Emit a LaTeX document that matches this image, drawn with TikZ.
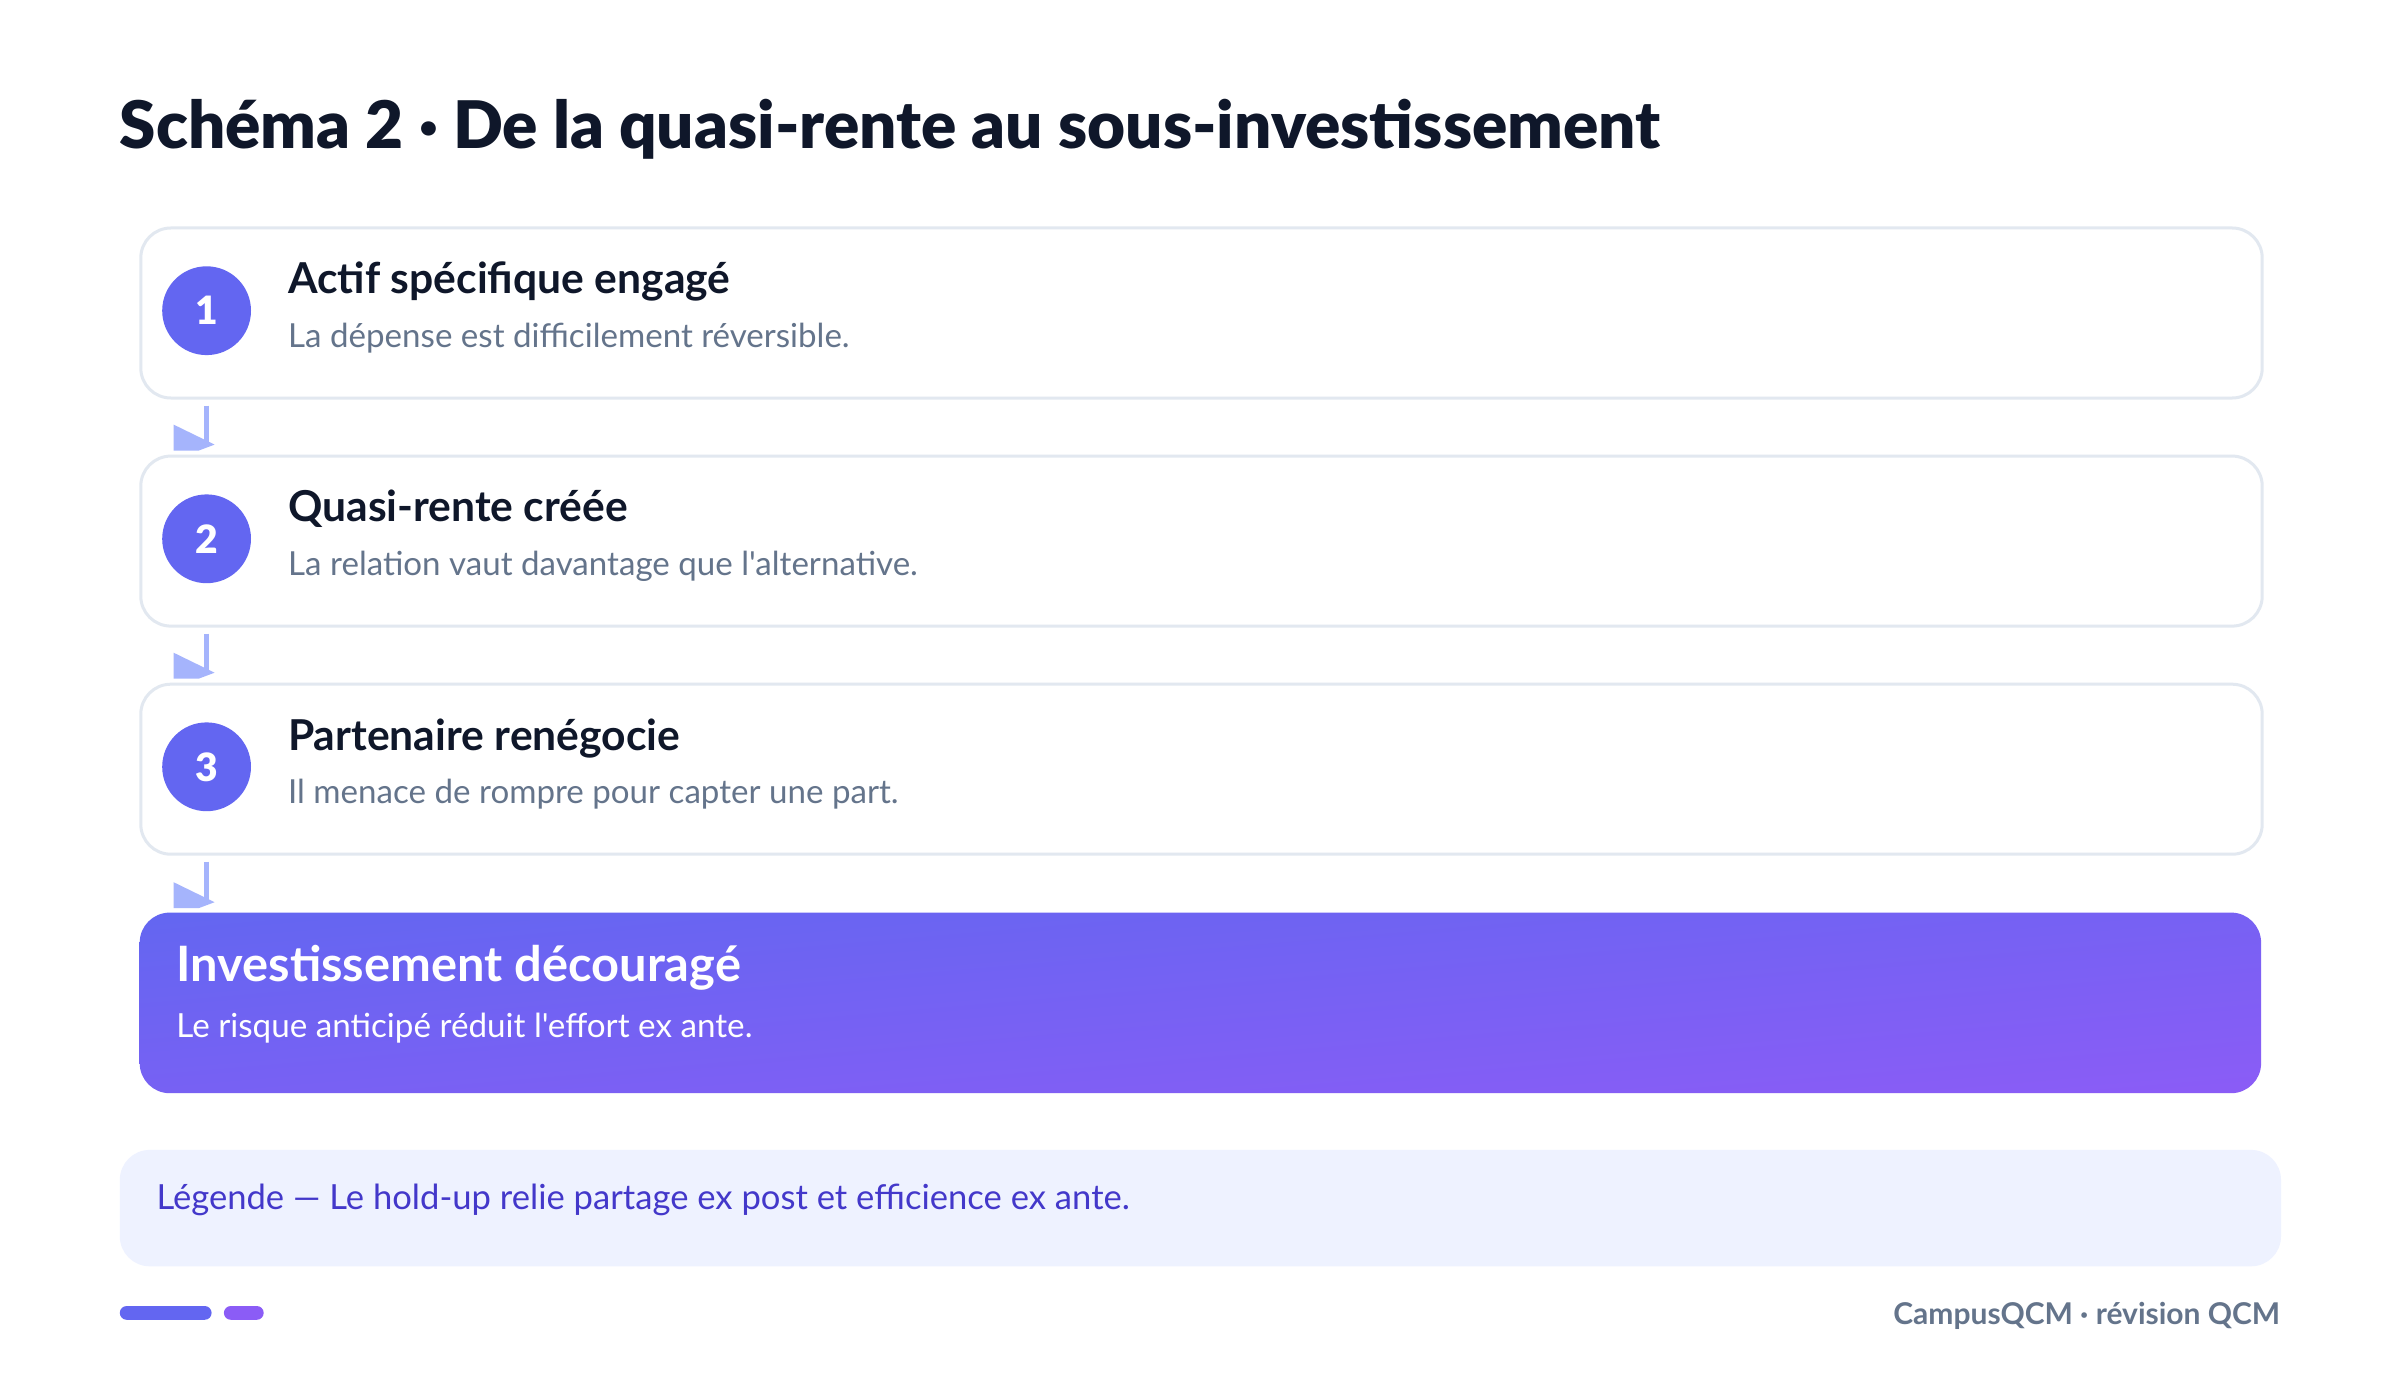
\documentclass[tikz,border=0pt]{standalone}
\usepackage{fontspec}
\setmainfont{Lato}[Ligatures=TeXOff]
\newfontfamily\heavyfont{Lato Black}[Ligatures=TeXOff]
\usetikzlibrary{calc,shadings}
\definecolor{ink}{HTML}{0F172A}
\definecolor{muted}{HTML}{64748B}
\definecolor{bordercol}{HTML}{E2E8F0}
\definecolor{indigoA}{HTML}{6366F1}
\definecolor{violetA}{HTML}{8B5CF6}
\definecolor{midA}{HTML}{7761F3}
\definecolor{arrowcol}{HTML}{A5B4FC}
\definecolor{legendbg}{HTML}{EEF2FF}
\definecolor{legendtxt}{HTML}{4338CA}
\tikzset{
  stepbox/.style={draw=bordercol, line width=1.5pt, fill=white, rounded corners=15pt,
    anchor=north west, minimum width=1060.7pt, minimum height=85pt, inner sep=0pt},
  finalbox/.style={rounded corners=15pt, upper left=indigoA, lower right=violetA,
    upper right=midA, lower left=midA, draw=none,
    anchor=north west, minimum width=1060.7pt, minimum height=90.3pt, inner sep=0pt},
  numcirc/.style={circle, fill=indigoA, minimum size=44.4pt, inner sep=0pt, text=white,
    font=\fontsize{19.5}{21}\heavyfont},
  ttl/.style={anchor=base west, inner sep=0pt, text=ink, font=\fontsize{21.3}{25}\selectfont\bfseries},
  sub/.style={anchor=base west, inner sep=0pt, text=muted, font=\fontsize{16.55}{20}\selectfont},
  arrline/.style={draw=arrowcol, line width=2.5pt},
  headfill/.style={fill=arrowcol},
}
\begin{document}
\begin{tikzpicture}[x=0.5pt,y=-0.5pt]
\useasboundingbox[fill=white] (0,0) rectangle (2400,1375);

\node[anchor=base west, inner sep=0pt, text=ink, font=\fontsize{32.8}{38}\heavyfont] (title) at (119.4,148.5)
  {Schéma 2 · De la quasi-rente au sous-investissement};

% step boxes
\node[stepbox] (b1) at (139.3,226.5) {};
\node[stepbox] (b2) at (139.3,454.6) {};
\node[stepbox] (b3) at (139.3,682.7) {};
\node[finalbox] (b4) at (139.3,912.2) {};

\node[numcirc] (c1) at (206.6,310.7) {1};
\node[numcirc] (c2) at (206.6,538.8) {2};
\node[numcirc] (c3) at (206.6,766.8) {3};

\node[ttl] (t1) at (287.8,293.9) {Actif spécifique engagé};
\node[sub] (s1) at (287.8,347.4) {La dépense est difficilement réversible.};
\node[ttl] (t2) at (287.8,521.9) {Quasi-rente créée};
\node[sub] (s2) at (287.8,575.5) {La relation vaut davantage que l'alternative.};
\node[ttl] (t3) at (287.8,750) {Partenaire renégocie};
\node[sub] (s3) at (287.8,803.6) {Il menace de rompre pour capter une part.};

\node[anchor=base west, inner sep=0pt, text=white, font=\fontsize{24.4}{28}\selectfont\bfseries] (t4) at (176,981) {Investissement découragé};
\node[anchor=base west, inner sep=0pt, text=white, font=\fontsize{16.6}{20}\selectfont] (s4) at (176,1037.7) {Le risque anticipé réduit l'effort ex ante.};

% connectors
\path (b2.north -| c1.center) coordinate (p2);
\path (b3.north -| c1.center) coordinate (p3);
\path (b4.north -| c1.center) coordinate (p4);
\draw[arrline] ($(b1.south -| c1.center)+(0,6)$) -- ($(p2)+(0,-9)$);
\fill[headfill] ($(p2)+(-33,-30)$) -- ($(p2)+(8,-10)$) -- ($(p2)+(-8,-4)$) -- ($(p2)+(-33,-4)$) -- cycle;
\draw[arrline] ($(b2.south -| c1.center)+(0,6)$) -- ($(p3)+(0,-9)$);
\fill[headfill] ($(p3)+(-33,-30)$) -- ($(p3)+(8,-10)$) -- ($(p3)+(-8,-4)$) -- ($(p3)+(-33,-4)$) -- cycle;
\draw[arrline] ($(b3.south -| c1.center)+(0,6)$) -- ($(p4)+(0,-9)$);
\fill[headfill] ($(p4)+(-33,-30)$) -- ($(p4)+(8,-10)$) -- ($(p4)+(-8,-4)$) -- ($(p4)+(-33,-4)$) -- cycle;

% legend
\node[fill=legendbg, rounded corners=15pt, anchor=north west, minimum width=1080.6pt, minimum height=58.2pt, inner sep=0pt] (leg) at (119.4,1149.5) {};
\node[anchor=base west, inner sep=0pt, text=legendtxt, font=\fontsize{17.3}{21}\selectfont] (legt) at (156.1,1209.2)
  {Légende — Le hold-up relie partage ex post et efficience ex ante.};

% footer
\node[fill=indigoA, rounded corners=3.45pt, anchor=north west, minimum width=45.9pt, minimum height=6.9pt, inner sep=0pt] (bar1) at (119.4,1305.6) {};
\node[fill=violetA, rounded corners=3.45pt, anchor=north west, minimum width=19.9pt, minimum height=6.9pt, inner sep=0pt] (bar2) at (223.5,1305.6) {};
\node[anchor=base east, inner sep=0pt, text=muted, font=\fontsize{15}{18}\selectfont\bfseries] (foot) at (2280.6,1324)
  {CampusQCM · révision QCM};
\end{tikzpicture}
\end{document}
